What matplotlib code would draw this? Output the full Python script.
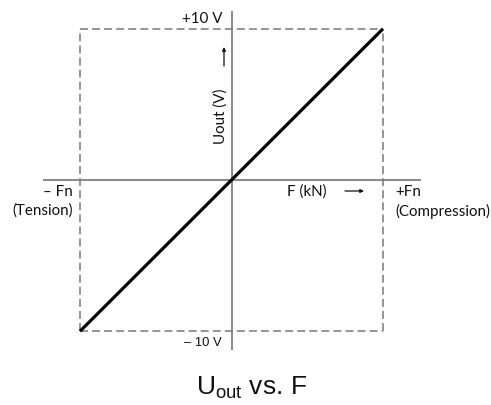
import matplotlib
matplotlib.use("Agg")
import matplotlib.pyplot as plt

# Data: normalized force (Fn units) vs output voltage
force = [-1.0, 0.0, 1.0]          # F / Fn
uout = [-10.0, 0.0, 10.0]         # V
box_f = [-1.0, 1.0]
box_u = [-10.0, 10.0]
title_main = "U"
title_sub = "out"
title_rest = " vs. F"

W, H = 491, 406
fig = plt.figure(figsize=(W / 100, H / 100), dpi=100)
ax = fig.add_axes([0, 0, 1, 1])
ax.set_axis_off()

# pixel layout mapping
cx, cy = 231.5, 181.0
sx = (383 - 80) / 2.0
sy = (332 - 29.5) / 20.0
ax.set_xlim((0 - cx) / sx, (W - cx) / sx)
ax.set_ylim(-(H - cy) / sy, cy / sy)

gray_axis = "#6a6a6a"
gray_dash = "#787878"
cal = ["Lato", "DejaVu Sans"]
ari = ["Liberation Sans", "DejaVu Sans"]

# axes lines
ax.plot([(43 - cx) / sx, (421 - cx) / sx], [0, 0], color=gray_axis, lw=1.1, solid_capstyle="butt")
ax.plot([0, 0], [(cy - 11.7) / sy, (cy - 351) / sy], color=gray_axis, lw=1.1, solid_capstyle="butt")

# dashed box
ls = (0, (5.2, 2.7))
ax.plot([box_f[0], box_f[1]], [box_u[1], box_u[1]], color=gray_dash, lw=1.1, linestyle=ls)
ax.plot([box_f[0], box_f[1]], [box_u[0], box_u[0]], color=gray_dash, lw=1.1, linestyle=ls)
ax.plot([box_f[0], box_f[0]], [box_u[0], box_u[1]], color=gray_dash, lw=1.1, linestyle=ls)
ax.plot([box_f[1], box_f[1]], [box_u[0], box_u[1]], color=gray_dash, lw=1.1, linestyle=ls)

# characteristic line
ax.plot(force, uout, color="black", lw=2.3, solid_capstyle="butt")

def px(x, y):
    return (x - cx) / sx, (cy - y) / sy

fs = 10.9
tc = "#111111"
ax.text(*px(222, 19), "+10 V", ha="right", va="center", fontsize=fs, family=cal, color=tc)
ax.text(*px(222, 343), "– 10 V", ha="right", va="center", fontsize=9.4, family=ari, color=tc)
ax.text(*px(73, 192), "– Fn", ha="right", va="center", fontsize=fs, family=cal, color=tc)
ax.text(*px(73, 211), "(Tension)", ha="right", va="center", fontsize=fs, family=cal, color=tc)
ax.text(*px(395, 192), "+Fn", ha="left", va="center", fontsize=fs, family=cal, color=tc)
ax.text(*px(395, 211), "(Compression)", ha="left", va="center", fontsize=fs, family=cal, color=tc)
ax.text(*px(307, 192), "F (kN)", ha="center", va="center", fontsize=fs, family=cal, color=tc)
ax.text(*px(221, 116), "Uout (V)", ha="center", va="center", rotation=90, fontsize=fs, family=cal, color=tc)

ax.annotate("", xy=px(364, 192), xytext=px(345, 192),
            arrowprops=dict(arrowstyle="-|>", color=tc, lw=0.9, mutation_scale=5,
                            shrinkA=0, shrinkB=0))
ax.annotate("", xy=px(224, 48), xytext=px(224, 67),
            arrowprops=dict(arrowstyle="-|>", color=tc, lw=0.9, mutation_scale=5,
                            shrinkA=0, shrinkB=0))

# title with subscript
ax.text(*px(252, 388), r"$\mathregular{%s_{%s}}$%s" % (title_main, title_sub, title_rest),
        ha="center", va="center", fontsize=19, family=ari, color=tc)

fig.savefig("out.png", dpi=100)
